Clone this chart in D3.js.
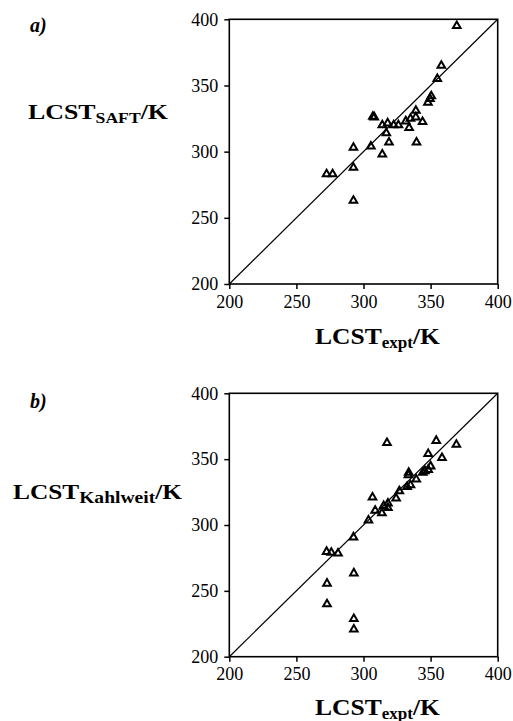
<!DOCTYPE html>
<html>
<head>
<meta charset="utf-8">
<script src="https://cdn.jsdelivr.net/npm/d3@7/dist/d3.min.js"></script>
<style>
  html, body { margin: 0; padding: 0; background: #fff; }
  svg { display: block; }
  text { font-family: "Liberation Serif", "Times New Roman", serif; fill: #000; }
</style>
</head>
<body>
<svg id="chart" width="513" height="721"></svg>
<script>
// ---- data ----
const ticks = [200, 250, 300, 350, 400];
const domainMin = 200, domainMax = 400;

// panel a: LCST_expt vs LCST_SAFT
const exptA = [369.5, 358, 355, 350.5, 349.5, 348, 339, 339, 344, 335, 331.5, 334, 326, 322.5, 318, 314, 307, 308, 317, 319, 339.5, 314, 305.5, 292.5, 292.5, 272.5, 277, 292.5];
const saftA = [395, 365, 355, 342, 340, 337, 331, 326, 322.5, 325, 323, 318, 320, 320, 321.5, 320, 326.5, 326, 314, 307, 307, 298, 304, 303, 288, 283, 283, 263];

// panel b: LCST_expt vs LCST_Kahlweit
const exptB = [317.5, 354.2, 369.2, 348.2, 358.5, 350, 348.2, 345.7, 344.2, 333.7, 333.5, 339.3, 335, 332.5, 326.7, 324.3, 306.7, 318.2, 315, 318.2, 313.7, 308.7, 303.7, 292.5, 272.5, 276, 281, 292.8, 272.8, 272.8, 292.8, 292.8];
const kahlB = [362.4, 364, 361, 354, 351, 344.6, 342, 341, 339.8, 339.8, 338, 334.6, 330.3, 329, 325.8, 320.3, 321, 316.5, 314.5, 313, 309, 311, 303.5, 290.7, 279.7, 279, 278.5, 263.4, 255.6, 240, 228.8, 220.8];

const svg = d3.select("#chart");

function panel(cfg) {
  const x = d3.scaleLinear().domain([domainMin, domainMax]).range([cfg.left, cfg.right]);
  const y = d3.scaleLinear().domain([domainMin, domainMax]).range([cfg.bottom, cfg.top]);
  const g = svg.append("g");

  // diagonal y = x
  g.append("line")
    .attr("x1", x(domainMin)).attr("y1", y(domainMin))
    .attr("x2", x(domainMax)).attr("y2", y(domainMax))
    .attr("stroke", "#000").attr("stroke-width", 1.2);

  // frame
  g.append("rect")
    .attr("x", x(domainMin)).attr("y", y(domainMax))
    .attr("width", x(domainMax) - x(domainMin))
    .attr("height", y(domainMin) - y(domainMax))
    .attr("fill", "none").attr("stroke", "#000").attr("stroke-width", 1.6);

  // axes
  const ax = g.append("g").attr("transform", `translate(0,${y(domainMin)})`)
    .call(d3.axisBottom(x).tickValues(ticks).tickSize(5).tickPadding(6).tickFormat(d3.format("d")));
  const ay = g.append("g").attr("transform", `translate(${x(domainMin)},0)`)
    .call(d3.axisLeft(y).tickValues(ticks).tickSize(5).tickPadding(6).tickFormat(d3.format("d")));
  [ax, ay].forEach(a => {
    a.select(".domain").remove();
    a.selectAll(".tick line").attr("stroke", "#000").attr("stroke-width", 1.5);
    a.selectAll(".tick text")
      .attr("font-family", '"Liberation Serif", "Times New Roman", serif')
      .attr("font-size", 18).attr("fill", "#000");
  });

  // points
  const tri = d3.symbol().type(d3.symbolTriangle).size(25);
  g.selectAll("path.pt").data(cfg.xs.map((v, i) => [v, cfg.ys[i]]))
    .join("path").attr("class", "pt")
    .attr("d", tri)
    .attr("transform", d => `translate(${x(d[0])},${y(d[1])})`)
    .attr("fill", "none").attr("stroke", "#000").attr("stroke-width", 2);

  // panel tag
  g.append("text").attr("x", 30).attr("y", cfg.tagY)
    .attr("font-size", 20).attr("font-weight", "bold").attr("font-style", "italic")
    .text(cfg.tag);

  // y label
  const yl = g.append("text").attr("x", cfg.ylX).attr("y", cfg.ylY)
    .attr("font-size", 22).attr("font-weight", "bold")
    .attr("textLength", cfg.ylLen).attr("lengthAdjust", "spacingAndGlyphs");
  yl.append("tspan").text("LCST");
  yl.append("tspan").attr("font-size", cfg.subSize).attr("dy", 4).text(cfg.ysub);
  yl.append("tspan").attr("dy", -4).text("/K");

  // x label
  const xl = g.append("text").attr("x", 315).attr("y", Math.min(y(domainMin) + 60, 715))
    .attr("font-size", 24).attr("font-weight", "bold")
    .attr("textLength", 125).attr("lengthAdjust", "spacingAndGlyphs");
  xl.append("tspan").text("LCST");
  xl.append("tspan").attr("font-size", 16).attr("dy", 3.5).text("expt");
  xl.append("tspan").attr("dy", -3.5).text("/K");
}

panel({ left: 229.3, right: 497.7, top: 19.3, bottom: 284, xs: exptA, ys: saftA,
        tag: "a)", tagY: 32, ysub: "SAFT", subSize: 15, ylX: 28, ylY: 119.3, ylLen: 140 });
panel({ left: 229.3, right: 497.7, top: 393.3, bottom: 656.7, xs: exptB, ys: kahlB,
        tag: "b)", tagY: 408, ysub: "Kahlweit", subSize: 17, ylX: 13, ylY: 499.3, ylLen: 169 });
</script>
</body>
</html>
